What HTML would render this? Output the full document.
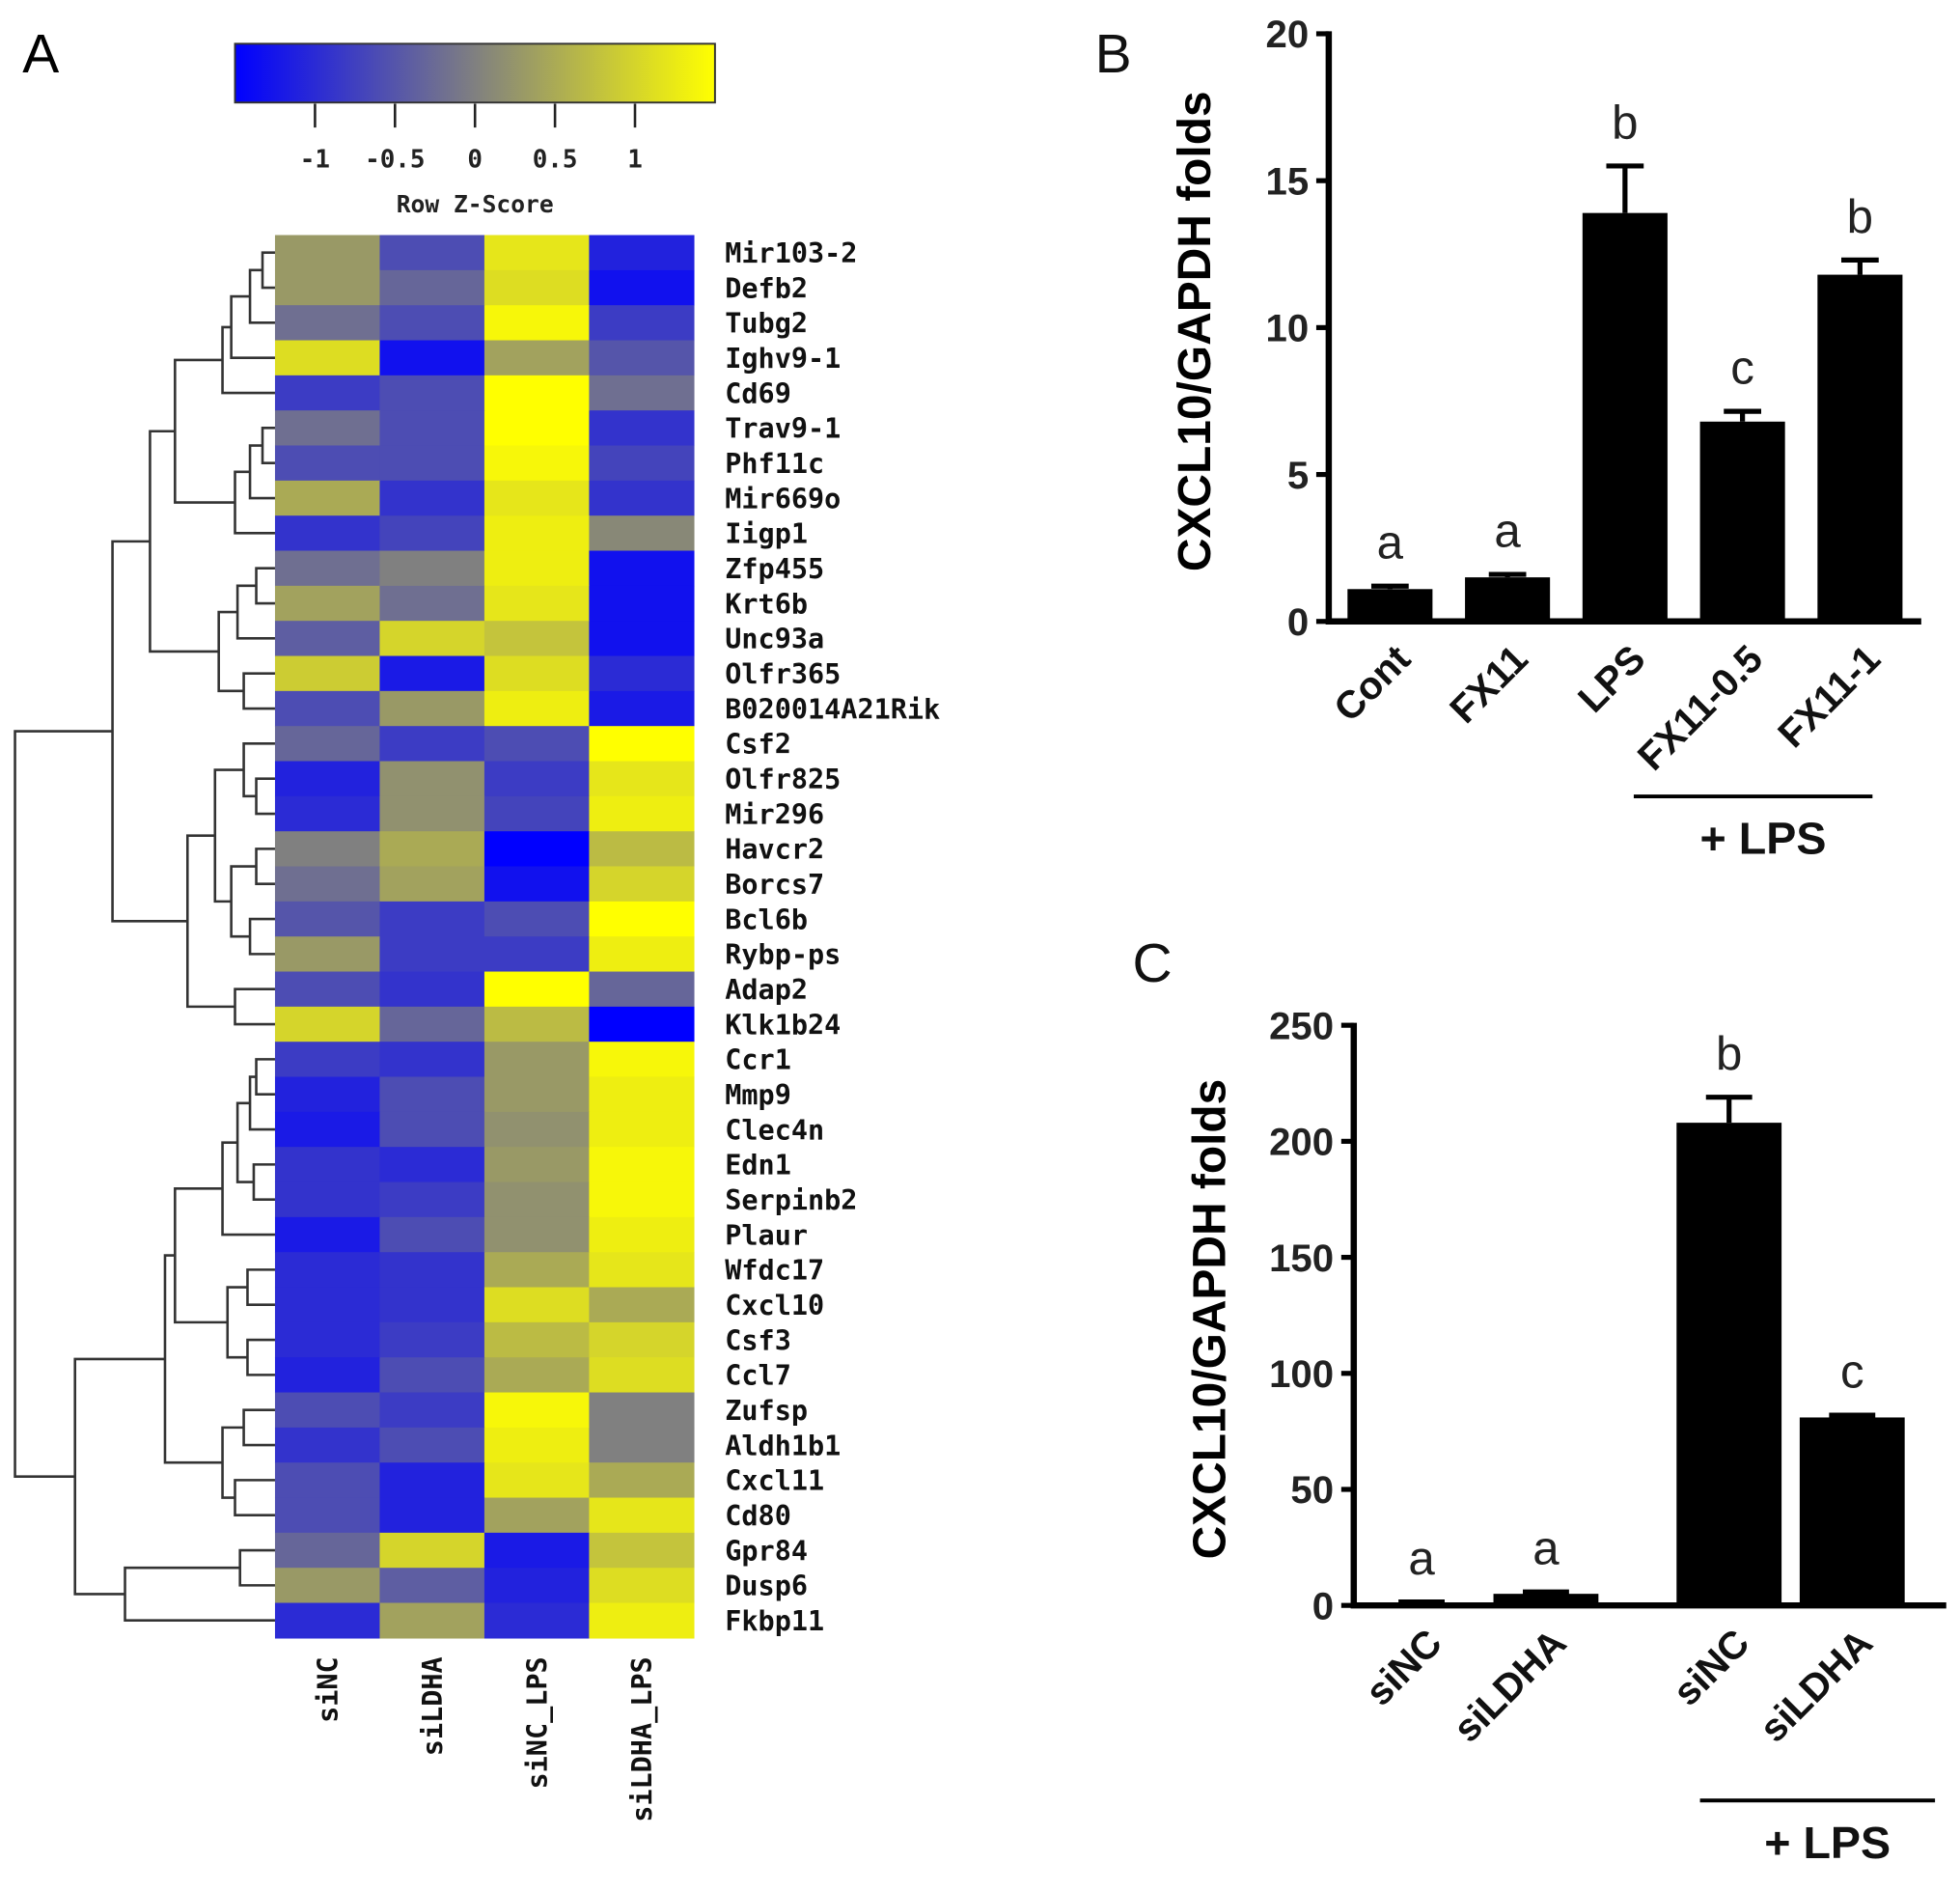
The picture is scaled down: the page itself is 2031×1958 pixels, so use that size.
<!DOCTYPE html>
<html><head><meta charset="utf-8"><style>
html,body{margin:0;padding:0;background:#fff;}
svg{display:block;}
.mono{font-family:"DejaVu Sans Mono","Liberation Mono",monospace;font-weight:bold;}
.sans{font-family:"Liberation Sans",sans-serif;}
</style></head><body>
<svg id="fig" width="2031" height="1958" viewBox="0 0 1568 1511.6" preserveAspectRatio="none" xmlns="http://www.w3.org/2000/svg">
<defs>
<linearGradient id="cbar" x1="0" x2="1" y1="0" y2="0">
<stop offset="0" stop-color="#0000ff"/><stop offset="0.5" stop-color="#808080"/><stop offset="1" stop-color="#ffff00"/>
</linearGradient>
</defs>
<g id="panelA"></g>
<g id="panelB"></g>
<g id="panelC"></g>
</svg>
<script>
// ---- Heatmap data ----
const genes = ["Mir103-2","Defb2","Tubg2","Ighv9-1","Cd69","Trav9-1","Phf11c","Mir669o","Iigp1","Zfp455","Krt6b","Unc93a","Olfr365","B020014A21Rik","Csf2","Olfr825","Mir296","Havcr2","Borcs7","Bcl6b","Rybp-ps","Adap2","Klk1b24","Ccr1","Mmp9","Clec4n","Edn1","Serpinb2","Plaur","Wfdc17","Cxcl10","Csf3","Ccl7","Zufsp","Aldh1b1","Cxcl11","Cd80","Gpr84","Dusp6","Fkbp11"];
const samples = ["siNC","siLDHA","siNC_LPS","siLDHA_LPS"];
const zscores = [
[0.3,-0.6,1.2,-1.1],[0.3,-0.3,1.1,-1.3],[-0.2,-0.6,1.4,-0.8],[1.1,-1.3,0.4,-0.5],
[-0.8,-0.6,1.5,-0.2],[-0.2,-0.6,1.5,-0.9],[-0.6,-0.6,1.4,-0.7],[0.5,-0.9,1.2,-0.9],
[-0.9,-0.7,1.3,0.1],[-0.2,0.0,1.3,-1.3],[0.4,-0.2,1.2,-1.3],[-0.4,1.0,0.8,-1.3],
[0.9,-1.2,1.1,-1.0],[-0.6,0.3,1.3,-1.2],[-0.3,-0.8,-0.6,1.5],[-1.1,0.2,-0.8,1.2],
[-1.0,0.2,-0.7,1.3],[0.0,0.5,-1.5,0.7],[-0.2,0.4,-1.3,1.0],[-0.5,-0.8,-0.6,1.5],
[0.3,-0.8,-0.8,1.3],[-0.6,-0.9,1.5,-0.3],[1.0,-0.3,0.7,-1.5],[-0.8,-0.9,0.3,1.4],
[-1.1,-0.6,0.3,1.3],[-1.2,-0.6,0.2,1.3],[-0.9,-1.0,0.3,1.4],[-0.9,-0.8,0.2,1.4],
[-1.2,-0.6,0.2,1.3],[-1.0,-0.9,0.5,1.2],[-1.0,-0.9,1.1,0.5],[-1.0,-0.8,0.7,1.0],
[-1.1,-0.6,0.5,1.1],[-0.6,-0.8,1.4,0.0],[-0.9,-0.6,1.3,0.0],[-0.6,-1.1,1.2,0.5],
[-0.6,-1.1,0.4,1.2],[-0.3,1.0,-1.2,0.8],[0.3,-0.4,-1.1,1.1],[-1.0,0.4,-1.0,1.3]];
const cbarTicks = [-1,-0.5,0,0.5,1];
const cbarTickLabels = ["-1","-0.5","0","0.5","1"];

// ---- Bar chart B ----
const bCats = ["Cont","FX11","LPS","FX11-0.5","FX11-1"];
const bVals = [1.1,1.5,13.9,6.8,11.8];
const bErrs = [0.1,0.1,1.6,0.35,0.5];
const bLetters = ["a","a","b","c","b"];
const bTicks = [0,5,10,15,20];

// ---- Bar chart C ----
const cCats = ["siNC","siLDHA","siNC","siLDHA"];
const cVals = [1,5,208,81];
const cErrs = [0.5,0.8,11,1];
const cLetters = ["a","a","b","c"];
const cTicks = [0,50,100,150,200,250];

const NS="http://www.w3.org/2000/svg";
function mk(parent,tag,attrs,text){const e=document.createElementNS(NS,tag);for(const k in attrs)e.setAttribute(k,attrs[k]);if(text!==undefined)e.textContent=text;parent.appendChild(e);return e;}
function zcolor(v){let t=Math.max(0,Math.min(1,(v+1.5)/3));let a,b,u;
 if(t<0.5){a=[0,0,255];b=[128,128,128];u=t/0.5;}else{a=[128,128,128];b=[255,255,0];u=(t-0.5)/0.5;}
 return "rgb("+a.map((c,i)=>Math.round(c+(b[i]-c)*u)).join(",")+")";}

// ===== Panel A =====
const A=document.getElementById('panelA');
let t=mk(A,'text',{x:18,y:58,'font-size':44,class:'sans'},'A');


const cbX=(v)=>380+v*128;
let r=mk(A,'rect',{x:cbX(-1.5),y:35,width:cbX(1.5)-cbX(-1.5),height:47,fill:'url(#cbar)',stroke:'#333','stroke-width':1.5});


cbarTicks.forEach((v,i)=>{
 const l=mk(A,'line',{x1:cbX(v),x2:cbX(v),y1:83,y2:102,stroke:'#222','stroke-width':2});
 
 
 const tx=mk(A,'text',{x:cbX(v),y:134,'font-size':20,'text-anchor':'middle',class:'mono',fill:'#222'},cbarTickLabels[i]);
 
 
});
t=mk(A,'text',{x:380,y:170,'font-size':19,'text-anchor':'middle',class:'mono',fill:'#222'},'Row Z-Score');



const hmX0=220,hmX1=555,hmY0=188,hmY1=1310;
const cw=(hmX1-hmX0)/samples.length, rh=(hmY1-hmY0)/genes.length;
const rowY=(i)=>hmY0+rh*(i+0.5);
zscores.forEach((row,i)=>row.forEach((v,j)=>{
 const c=mk(A,'rect',{x:hmX0+j*cw,y:hmY0+i*rh,width:cw+0.5,height:rh+0.5,fill:zcolor(v)});
 
 
}));
genes.forEach((g,i)=>{
 const tx=mk(A,'text',{x:580,y:rowY(i)+8,'font-size':22,class:'mono',fill:'#111'},g);
 
 
});
samples.forEach((s,j)=>{
 const cx=hmX0+cw*(j+0.5);
 const tx=mk(A,'text',{x:0,y:0,'font-size':22,class:'mono',fill:'#111','text-anchor':'end',transform:`translate(${cx+8},1325) rotate(-90)`},s);
 
 
});
// dendrogram tree: [x, left, right]; leaves are row indices
const A1=[200,[210,0,1],2],A2=[185,A1,3],A3=[178,A2,4];
const A4=[200,[210,5,6],7],A5=[188,A4,8],TA=[140,A3,A5];
const TB=[175,[190,[205,9,10],11],[195,12,13]];
const Top=[120,TA,TB];
const M1=[195,14,[205,15,16]],M4=[185,[205,17,18],[200,19,20]],M5=[172,M1,M4],Mid=[150,M5,[188,21,22]];
const TopMid=[90,Top,Mid];
const Ba=[178,[190,[200,[205,23,24],25],[203,26,27]],28];
const Bb=[182,[198,29,30],[198,31,32]];
const Bc=[178,[195,33,34],[188,35,36]];
const Bd=[168,[192,37,38],39];
const Bottom=[60,[132,[140,Ba,Bb],Bc],[100,Bd[1],Bd[2]]];
const root=[12,TopMid,Bottom];
const dg=mk(A,'g',{stroke:'#333','stroke-width':2,fill:'none'});


function draw(n){ // returns y of node
 if(typeof n==='number') return rowY(n);
 const [x,l,rr]=n; const yl=draw(l), yr=draw(rr);
 const xl=typeof l==='number'?hmX0:l[0], xr=typeof rr==='number'?hmX0:rr[0];
 mk(dg,'path',{d:`M${xl},${yl}H${x}V${yr}H${xr}`});
 return (yl+yr)/2;}
draw(root);

// ===== Bar charts =====
function barChart(G,o){
 const y=(v)=>o.yBot-(v/o.yMax)*(o.yBot-o.yTop);
 let t=mk(G,'text',{x:o.labX,y:o.labY,'font-size':44,class:'sans',fill:'#111'},o.label);
 
 
 const ax=mk(G,'path',{d:`M${o.x0},${o.yTop-2}V${o.yBot}H${o.x1}`,stroke:'#000','stroke-width':5,fill:'none'});
 
 
 o.ticks.forEach(v=>{
  const l=mk(G,'line',{x1:o.x0-10,x2:o.x0,y1:y(v),y2:y(v),stroke:'#000','stroke-width':4});
  
  
  const tx=mk(G,'text',{x:o.x0-16,y:y(v)+11,'font-size':31,'font-weight':'bold','text-anchor':'end',class:'sans',fill:'#222'},String(v));
  
  
 });
 t=mk(G,'text',{x:0,y:0,'font-size':37,'font-weight':'bold','text-anchor':'middle',class:'sans',fill:'#000',transform:`translate(${o.ytX},${o.ytY}) rotate(-90)`},'CXCL10/GAPDH folds');
 
 
 const n=o.cats.length, slot=(o.x1-o.x0-o.pad)/n;
 o.cats.forEach((c,i)=>{
  const cx=o.x0+o.pad/2+slot*(i+0.5)+ (o.shift?o.shift[i]:0);
  const top=y(o.vals[i]), et=y(o.vals[i]+o.errs[i]);
  const b=mk(G,'rect',{x:cx-o.bw/2,y:top,width:o.bw,height:o.yBot-top,fill:'#000'});
  
  
  const e=mk(G,'path',{d:`M${cx},${top}V${et}M${cx-o.bw*0.22},${et}H${cx+o.bw*0.22}`,stroke:'#000','stroke-width':4,fill:'none'});
  
  
  const lt=mk(G,'text',{x:cx,y:et-22,'font-size':38,'text-anchor':'middle',class:'sans',fill:'#222'},o.letters[i]);
  
  
  const xl=mk(G,'text',{x:0,y:0,'font-size':31,'font-weight':'bold','text-anchor':'end',class:'sans',fill:'#111',transform:`translate(${cx+18},${o.yBot+32}) rotate(-45)`},c);
  
  
 });
 const ln=mk(G,'line',{x1:o.lps[0],x2:o.lps[1],y1:o.lps[2],y2:o.lps[2],stroke:'#000','stroke-width':3});
 
 
 const lp=mk(G,'text',{x:(o.lps[0]+o.lps[1])/2+8,y:o.lps[2]+46,'font-size':36,'font-weight':'bold','text-anchor':'middle',class:'sans',fill:'#111'},'+ LPS');
 
 
}
barChart(document.getElementById('panelB'),{name:'b',label:'B',labX:876,labY:58,x0:1063,x1:1537,yTop:27,yBot:497,yMax:20,
 ticks:bTicks,cats:bCats,vals:bVals,errs:bErrs,letters:bLetters,bw:68,pad:4,ytX:968,ytY:265,lps:[1307,1498,637]});
barChart(document.getElementById('panelC'),{name:'c',label:'C',labX:906,labY:785,x0:1083,x1:1557,yTop:820,yBot:1284,yMax:250,
 ticks:cTicks,cats:cCats,vals:cVals,errs:cErrs,letters:cLetters,bw:84,pad:0,shift:[-5,-24,4,-16],ytX:980,ytY:1055,lps:[1360,1548,1440]});
</script>
</body></html>
